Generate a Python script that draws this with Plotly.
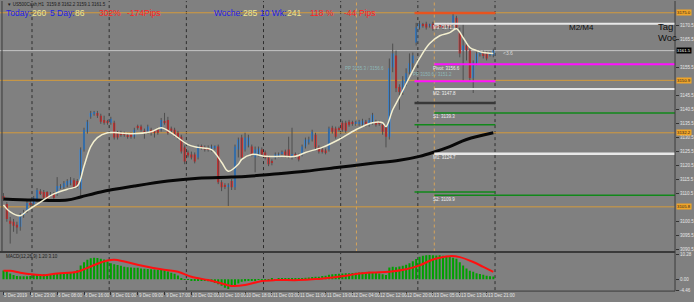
import plotly.graph_objects as go

W, H = 694, 302

# ---------------- data ----------------
bars = list(range(147))
open_ = [3109.7, 3106.8, 3100.8, 3100.5, 3099.4, 3098.7, 3102.9, 3104.4, 3107.2, 3106.8,
         3108.2, 3111.4, 3111.1, 3111.1, 3110.0, 3110.4, 3110.4, 3112.8, 3112.8, 3113.5,
         3114.2, 3115.3, 3115.0, 3112.1, 3126.2, 3132.6, 3137.9, 3139.0, 3139.3, 3138.3,
         3136.8, 3136.1, 3135.8, 3135.8, 3132.2, 3132.2, 3131.9, 3131.5, 3131.9, 3130.8,
         3134.4, 3134.4, 3132.9, 3132.6, 3133.3, 3132.6, 3133.3, 3133.3, 3136.1, 3136.8,
         3133.7, 3133.3, 3132.2, 3130.8, 3127.0, 3125.2, 3124.5, 3124.5, 3123.4, 3127.3,
         3127.0, 3126.6, 3126.2, 3127.0, 3127.3, 3114.6, 3113.5, 3113.2, 3115.0, 3112.8,
         3126.2, 3130.5, 3126.2, 3127.7, 3127.3, 3123.4, 3124.5, 3126.2, 3125.2, 3123.4,
         3122.0, 3123.4, 3124.1, 3124.8, 3125.5, 3126.2, 3124.1, 3124.5, 3124.1, 3124.5,
         3127.3, 3128.7, 3129.8, 3131.5, 3127.0, 3126.2, 3125.9, 3126.2, 3134.0, 3133.7,
         3133.7, 3135.8, 3135.8, 3136.1, 3135.8, 3135.4, 3135.4, 3135.1, 3136.1, 3135.1,
         3135.8, 3136.1, 3135.8, 3135.1, 3134.0, 3130.8, 3155.5, 3159.8, 3148.5, 3146.7,
         3149.9, 3153.8, 3157.0, 3164.4, 3169.7, 3170.7, 3171.1, 3170.4, 3171.1, 3170.0,
         3170.4, 3170.4, 3170.7, 3170.7, 3171.1, 3173.2, 3167.9, 3161.5, 3163.3, 3161.5,
         3151.7, 3157.0, 3160.5, 3160.5, 3160.5, 3160.1, 3159.8]
close = [3108.6, 3101.5, 3099.8, 3099.1, 3098.4, 3102.6, 3103.6, 3107.2, 3106.5, 3109.0,
         3111.8, 3110.7, 3109.0, 3108.6, 3110.4, 3109.0, 3113.2, 3113.2, 3114.2, 3115.0,
         3115.3, 3112.8, 3113.2, 3126.2, 3133.3, 3136.1, 3139.3, 3139.3, 3138.3, 3136.1,
         3135.8, 3135.8, 3137.2, 3130.5, 3130.5, 3131.5, 3131.5, 3130.8, 3130.8, 3133.3,
         3134.0, 3133.3, 3132.2, 3134.4, 3132.2, 3132.2, 3132.2, 3136.8, 3135.8, 3132.2,
         3132.9, 3131.5, 3130.5, 3125.5, 3122.0, 3124.1, 3123.4, 3122.0, 3127.3, 3127.0,
         3126.2, 3126.2, 3127.3, 3127.1, 3114.6, 3112.8, 3113.2, 3113.5, 3112.8, 3127.3,
         3129.8, 3123.4, 3130.5, 3130.5, 3124.5, 3126.2, 3126.6, 3124.5, 3123.4, 3121.0,
         3121.7, 3124.5, 3124.5, 3125.2, 3124.1, 3123.8, 3124.5, 3124.1, 3122.7, 3127.3,
         3129.8, 3129.8, 3132.6, 3127.0, 3125.5, 3125.5, 3125.2, 3133.7, 3132.6, 3130.8,
         3133.3, 3133.3, 3132.9, 3135.1, 3135.4, 3135.8, 3136.1, 3136.5, 3135.1, 3136.8,
         3138.6, 3135.1, 3135.4, 3132.6, 3130.8, 3155.2, 3160.5, 3148.1, 3146.7, 3150.9,
         3153.4, 3157.0, 3159.8, 3169.7, 3171.1, 3170.4, 3169.7, 3170.5, 3169.3, 3169.7,
         3170.0, 3169.7, 3170.4, 3169.7, 3173.9, 3169.7, 3160.5, 3163.3, 3161.5, 3151.7,
         3157.3, 3160.5, 3160.8, 3159.8, 3158.7, 3160.5, 3161.5]
high = [3110.7, 3107.5, 3102.2, 3101.5, 3100.5, 3103.6, 3104.7, 3107.9, 3108.2, 3109.7,
        3112.5, 3112.1, 3111.8, 3111.4, 3111.1, 3111.1, 3116.4, 3113.9, 3115.0, 3115.7,
        3116.4, 3116.0, 3115.7, 3127.0, 3134.0, 3136.8, 3140.0, 3140.0, 3140.0, 3139.0,
        3138.3, 3136.8, 3137.9, 3136.5, 3132.9, 3132.9, 3132.6, 3132.2, 3132.2, 3134.0,
        3135.1, 3135.1, 3133.7, 3135.1, 3134.0, 3133.3, 3134.0, 3137.5, 3139.3, 3137.9,
        3134.4, 3134.0, 3132.9, 3131.5, 3127.7, 3125.9, 3125.5, 3125.2, 3128.0, 3128.0,
        3127.7, 3127.7, 3128.0, 3127.7, 3128.0, 3115.3, 3114.2, 3114.2, 3115.7, 3128.0,
        3130.5, 3131.5, 3132.2, 3131.5, 3128.0, 3127.3, 3127.3, 3127.0, 3125.9, 3124.1,
        3122.7, 3125.2, 3125.2, 3125.9, 3126.2, 3130.8, 3134.0, 3125.2, 3124.8, 3128.0,
        3130.5, 3130.8, 3133.3, 3132.2, 3127.7, 3127.0, 3126.6, 3134.4, 3134.7, 3134.4,
        3134.4, 3136.5, 3136.5, 3136.8, 3136.5, 3136.5, 3136.8, 3137.2, 3136.8, 3137.5,
        3139.3, 3136.8, 3136.5, 3135.8, 3134.7, 3158.7, 3164.0, 3161.5, 3149.5, 3152.4,
        3155.2, 3160.5, 3160.8, 3171.4, 3172.1, 3171.4, 3171.8, 3171.1, 3171.8, 3170.7,
        3171.1, 3171.1, 3171.4, 3171.4, 3174.6, 3173.9, 3169.7, 3171.1, 3164.4, 3162.2,
        3158.0, 3161.2, 3161.5, 3161.5, 3161.2, 3161.2, 3162.2]
low = [3107.9, 3100.5, 3092.7, 3096.9, 3096.2, 3097.3, 3101.9, 3103.6, 3105.8, 3106.1,
       3107.5, 3110.0, 3108.6, 3107.9, 3109.3, 3108.2, 3109.7, 3112.1, 3112.1, 3112.8,
       3113.5, 3112.1, 3112.5, 3109.3, 3125.5, 3131.9, 3137.2, 3138.3, 3137.5, 3135.4,
       3135.1, 3135.1, 3135.1, 3129.8, 3129.8, 3130.8, 3130.8, 3130.1, 3130.1, 3130.1,
       3133.3, 3132.6, 3130.1, 3131.9, 3131.2, 3130.5, 3131.5, 3132.6, 3135.1, 3131.5,
       3132.2, 3130.8, 3129.8, 3124.8, 3121.0, 3123.4, 3122.7, 3121.3, 3122.7, 3126.2,
       3125.5, 3125.5, 3125.5, 3126.2, 3113.9, 3111.4, 3112.1, 3106.1, 3111.8, 3111.8,
       3123.4, 3122.7, 3125.5, 3127.0, 3123.8, 3118.1, 3123.8, 3123.8, 3122.7, 3120.3,
       3120.6, 3122.7, 3123.4, 3124.1, 3123.4, 3123.1, 3122.7, 3123.4, 3122.0, 3123.8,
       3126.6, 3128.0, 3129.1, 3126.2, 3124.8, 3124.8, 3124.5, 3125.5, 3131.9, 3130.1,
       3132.6, 3132.6, 3132.2, 3134.4, 3134.7, 3134.7, 3134.7, 3134.4, 3134.4, 3134.4,
       3135.1, 3134.4, 3134.7, 3131.5, 3127.0, 3129.8, 3153.8, 3146.7, 3140.4, 3145.7,
       3148.8, 3153.1, 3154.5, 3163.3, 3169.0, 3169.7, 3169.0, 3169.7, 3168.6, 3169.0,
       3169.3, 3169.0, 3169.7, 3169.0, 3170.4, 3169.0, 3159.1, 3150.9, 3158.0, 3150.9,
       3146.4, 3156.3, 3159.4, 3158.7, 3158.0, 3159.4, 3159.1]

ma_fast_bar = [0, 2, 5, 7, 11, 15, 19, 22, 24, 26, 28, 31, 34, 38, 44, 47, 50, 55, 58, 62,
               65, 67, 70, 71, 74, 78, 83, 87, 90, 95, 100, 105, 110, 113, 114, 116, 118,
               121, 124, 127, 130, 133, 135, 137, 139, 141, 143, 146]
ma_fast_val = [3106.5, 3104.0, 3102.6, 3104.4, 3107.5, 3110.4, 3112.1, 3113.2, 3120.3, 3127.3,
               3130.5, 3132.2, 3132.2, 3131.9, 3132.6, 3134.0, 3132.2, 3128.0, 3127.0, 3126.2,
               3121.7, 3118.5, 3121.0, 3122.7, 3124.5, 3123.8, 3123.8, 3123.8, 3125.2, 3127.0,
               3129.8, 3133.3, 3135.8, 3135.8, 3134.4, 3140.4, 3144.9, 3152.0, 3158.7, 3164.0,
               3166.8, 3167.9, 3169.3, 3166.1, 3162.6, 3161.5, 3160.8, 3160.5]
ma_slow_bar = [0, 9, 19, 23, 29, 39, 49, 58, 68, 73, 80, 90, 100, 110, 118, 124, 128, 133, 138, 146]
ma_slow_val = [3108.6, 3108.2, 3108.2, 3109.3, 3111.1, 3113.2, 3115.0, 3116.0, 3116.4, 3116.7,
               3117.4, 3118.5, 3119.9, 3121.3, 3122.4, 3123.8, 3125.2, 3127.3, 3129.8, 3132.2]

macd_hist = [3.6, 3.4, 2.4, 1.8, 1.4, 1.3, 1.3, 1.3, 1.4, 1.8,
             2.0, 2.0, 2.1, 2.0, 2.1, 2.2, 2.5, 2.6, 2.7, 2.8,
             2.9, 3.0, 3.7, 5.7, 7.0, 8.0, 8.6, 8.8, 8.7, 8.4,
             8.1, 7.3, 6.6, 6.2, 5.9, 5.6, 5.2, 5.0, 4.9, 4.8,
             4.7, 4.4, 4.3, 4.2, 4.1, 4.0, 3.9, 3.8, 3.7, 3.2,
             2.7, 2.3, 1.6, 0.5, 0.1, -0.2, -0.3, -0.5, -0.6, -0.6,
             -0.7, -0.8, -0.9, -1.5, -2.0, -2.6, -3.4, -3.9, -3.0, -2.3,
             -1.7, -1.0, -0.8, -0.6, -0.4, -0.3, -0.2, -0.1, 0.1, 0.1,
             0.2, 0.1, 0.2, 0.2, 0.3, 0.2, 0.3, 0.3, 0.4, 0.6,
             0.7, 0.8, 1.0, 1.1, 1.1, 1.4, 1.5, 1.9, 2.1, 2.2,
             2.3, 2.4, 2.5, 2.5, 2.6, 2.7, 2.8, 2.9, 3.0, 3.1,
             3.0, 2.7, 2.4, 2.1, 1.8, 4.9, 5.2, 5.0, 5.3, 5.6,
             6.0, 6.6, 7.4, 8.3, 9.3, 9.7, 9.9, 10.0, 9.9, 9.8,
             9.9, 9.7, 9.5, 9.1, 8.8, 8.4, 7.0, 5.7, 4.4, 3.5,
             3.1, 2.5, 2.2, 1.9, 1.5, 1.3, 1.2]
sig_bar = [0, 2, 5, 9, 12, 16, 22, 25, 28, 31, 33, 36, 41, 47, 52, 56, 61, 64, 68, 72, 77,
           81, 88, 93, 98, 102, 105, 110, 115, 120, 124, 128, 133, 136, 140, 143, 146]
sig_val = [3.5, 3.5, 2.7, 2.0, 1.7, 2.4, 3.1, 4.7, 6.4, 7.7, 8.0, 7.3, 5.7, 4.1, 3.1, 1.1, -0.3,
           -1.3, -2.7, -2.3, -0.7, -0.3, -0.3, 0.1, 0.8, 1.5, 2.2, 2.8, 3.1, 4.1, 5.7, 8.1, 9.5,
           9.1, 7.1, 5.1, 3.1]

x_tick_bars = [0, 8, 16, 24, 32, 40, 48, 56, 64, 72, 80, 88, 96, 104, 112, 120, 128, 136, 144]
x_tick_labels = ["5 Dec 2019", "5 Dec 23:00", "6 Dec 08:00", "6 Dec 16:00", "9 Dec 01:00",
                 "9 Dec 09:00", "9 Dec 17:00", "10 Dec 02:00", "10 Dec 10:00", "10 Dec 18:00",
                 "11 Dec 03:00", "11 Dec 11:00", "11 Dec 19:00", "12 Dec 04:00", "12 Dec 12:00",
                 "12 Dec 20:00", "13 Dec 05:00", "13 Dec 13:00", "13 Dec 21:00"]
day_sep = [8.5, 31.5, 54.5, 77.5, 100.5, 123.5, 146.5]
session_marks = [105.2, 128.4]
# tick labels that are not hidden behind the price boxes on the right scale
price_ticks = [3090.5, 3095.5, 3100.5, 3110.5, 3115.5, 3120.5, 3125.5, 3130.5,
               3135.5, 3140.5, 3145.5, 3155.5, 3165.5, 3170.5]

orange_levels = [3175.0, 3150.9, 3132.2, 3105.8]
pivot_names = ["M3", "Pivot", "M2", "S1", "M1", "S2"]
pivot_vals = [3171.1, 3156.6, 3147.8, 3139.3, 3124.7, 3109.9]
prev_levels = [3174.9, 3150.6, 3142.8, 3135.1, 3111.1]
current_price = close[-1]

# ---------------- figure geometry ----------------
X_END = 676 / W
XR = [-1.04, 200.15]
FONT = "Arial, Liberation Sans, sans-serif"


def PX(x):
    return x / W


def PY(y):
    return 1 - y / H


fig = go.Figure()

# candle wicks
wx, wy = [], []
for i, h, l in zip(bars, high, low):
    wx += [i, i, None]
    wy += [l, h, None]
fig.add_trace(go.Scatter(x=wx, y=wy, mode="lines", line=dict(color="#4e4e4e", width=1),
                         hoverinfo="skip", xaxis="x", yaxis="y"))

# candle bodies
body_base = [min(o, c) for o, c in zip(open_, close)]
body_h = [max(abs(c - o), 0.3) for o, c in zip(open_, close)]
body_col = ["#1e8cff" if c >= o else "#ff1414" for o, c in zip(open_, close)]
fig.add_trace(go.Bar(x=bars, y=body_h, base=body_base, width=0.62,
                     marker=dict(color=body_col, line=dict(width=0)),
                     hoverinfo="skip", xaxis="x", yaxis="y"))

# moving averages
fig.add_trace(go.Scatter(x=ma_slow_bar, y=ma_slow_val, mode="lines",
                         line=dict(color="#080808", width=3, shape="spline"),
                         hoverinfo="skip", xaxis="x", yaxis="y"))
fig.add_trace(go.Scatter(x=ma_fast_bar, y=ma_fast_val, mode="lines",
                         line=dict(color="#f3efcf", width=1.5, shape="spline"),
                         hoverinfo="skip", xaxis="x", yaxis="y"))

# MACD
fig.add_trace(go.Bar(x=bars, y=macd_hist, width=0.6, marker=dict(color="#00a000", line=dict(width=0)),
                     hoverinfo="skip", xaxis="x2", yaxis="y2"))
fig.add_trace(go.Scatter(x=sig_bar, y=sig_val, mode="lines",
                         line=dict(color="#ff1010", width=2, shape="spline"),
                         hoverinfo="skip", xaxis="x2", yaxis="y2"))

shapes = []
for s in day_sep:
    shapes.append(dict(type="line", xref="x", yref="paper", x0=s, x1=s, y0=PY(292), y1=1,
                       line=dict(color="#2e2e2e", width=1, dash="dot"), layer="below"))
for s in session_marks:
    shapes.append(dict(type="line", xref="x", yref="paper", x0=s, x1=s, y0=PY(253), y1=1,
                       line=dict(color="#d6a45a", width=1, dash="dot"), layer="below"))
for v in orange_levels:
    shapes.append(dict(type="line", xref="paper", yref="y", x0=0, x1=X_END, y0=v, y1=v,
                       line=dict(color="#d39a3c", width=1), layer="below"))
shapes.append(dict(type="line", xref="paper", yref="y", x0=0, x1=X_END, y0=current_price,
                   y1=current_price, line=dict(color="#c4c4c4", width=1), layer="below"))
piv_style = {"M3": ("#e8e8e8", 2), "Pivot": ("#ff10ff", 2), "M2": ("#e8e8e8", 2),
             "S1": ("#11881a", 1.5), "M1": ("#e8e8e8", 2.5), "S2": ("#11881a", 1.5)}
for n, v in zip(pivot_names, pivot_vals):
    c, w = piv_style[n]
    shapes.append(dict(type="line", xref="x", yref="y", x0=session_marks[1], x1=XR[1], y0=v, y1=v,
                       line=dict(color=c, width=w)))
prev_style = [("#e8541e", 2.5), ("#ff10ff", 2), ("#383838", 2.5), ("#11881a", 1.5), ("#11881a", 1.5)]
for (c, w), v in zip(prev_style, prev_levels):
    shapes.append(dict(type="line", xref="x", yref="y", x0=122.5, x1=146.6, y0=v, y1=v,
                       line=dict(color=c, width=w)))
shapes.append(dict(type="line", xref="paper", yref="paper", x0=X_END, x1=X_END, y0=PY(293), y1=1,
                   line=dict(color="#3a3a3a", width=1)))
shapes.append(dict(type="line", xref="paper", yref="paper", x0=0, x1=X_END, y0=PY(253.5), y1=PY(253.5),
                   line=dict(color="#3a3a3a", width=2)))
shapes.append(dict(type="line", xref="paper", yref="paper", x0=0, x1=X_END, y0=PY(293), y1=PY(293),
                   line=dict(color="#3a3a3a", width=1)))
shapes.append(dict(type="line", xref="paper", yref="paper", x0=PX(2), x1=PX(2), y0=PY(253), y1=1,
                   line=dict(color="#3a3a3a", width=1)))

ann = []


def txt(x, y, s, color, size, anchor="left", **kw):
    d = dict(xref="paper", yref="paper", x=PX(x), y=PY(y), text=s, showarrow=False,
             xanchor=anchor, yanchor="middle", font=dict(family=FONT, size=size, color=color))
    d.update(kw)
    ann.append(d)


BLUE, YEL, RED = "#2020e8", "#f0e68c", "#ff2424"
row = [(4, "Today:", BLUE), (30, "260", YEL), (48, "5 Day:", BLUE), (73, "86", YEL),
       (97, "302%", RED), (125, "-174Pips", RED), (212, "Woche:", BLUE), (241, "285", YEL),
       (258, "10 Wk:", BLUE), (285, "241", YEL), (308, "118 %", RED), (342, "-44", RED),
       (358, "Pips", RED)]
for x, s, c in row:
    txt(x, 12, s, c, 8.5)

txt(5, 3.5, "▼ US500Cash,H1  %.1f %.1f %.1f %.1f" % (open_[-1], high[-1], low[-1], close[-1]),
    "#1a1a1a", 4.5)
txt(4, 258, "MACD(12,26,9) %.2f %.2f" % (macd_hist[-1], sig_val[-1]), "#1a1a1a", 4.5)
txt(568, 27, "M2/M4", "#101010", 8)
txt(657, 25.5, "Tag", "#101010", 9.5)
txt(657, 37, "Woc", "#101010", 9.5)
txt(502, 53, "&lt;3.6", "#d8d8d8", 5)
txt(343, 68, "PP 3155.3 / 3156.6", "#8fb8b8", 4.5)
txt(412, 74.5, "PP 3150.6 / 3151.2", "#8fb8b8", 4.5)

for n, v in zip(pivot_names, pivot_vals):
    ann.append(dict(xref="x", yref="y", x=127.3, y=v, yshift=-4, text="%s: %.1f" % (n, v),
                    showarrow=False, xanchor="left", yanchor="middle",
                    font=dict(family=FONT, size=4.5, color="#f2f2f2")))

for v in orange_levels:
    ann.append(dict(xref="paper", yref="y", x=PX(677), y=v, text="%.1f" % v, showarrow=False,
                    xanchor="left", yanchor="middle", bgcolor="#f0a428", borderpad=0,
                    font=dict(family=FONT, size=4.3, color="#202020")))
ann.append(dict(xref="paper", yref="y", x=PX(677), y=current_price, text="%.1f" % current_price,
                showarrow=False, xanchor="left", yanchor="middle", bgcolor="#000000", borderpad=0,
                font=dict(family=FONT, size=4.3, color="#ffffff")))

for b, s in zip(x_tick_bars, x_tick_labels):
    ann.append(dict(xref="x", yref="paper", x=b, y=PY(297), text=s, showarrow=False,
                    xanchor="left", yanchor="middle", xshift=-1,
                    font=dict(family=FONT, size=4.5, color="#e6e6e6")))

fig.update_layout(
    width=W, height=H, margin=dict(l=0, r=0, t=0, b=0),
    paper_bgcolor="#808080", plot_bgcolor="#808080",
    showlegend=False, hovermode=False, barmode="overlay",
    shapes=shapes, annotations=ann,
    xaxis=dict(domain=[0, X_END], range=XR, anchor="y", showgrid=False, zeroline=False,
               showticklabels=False, ticks=""),
    yaxis=dict(domain=[PY(253), 1], range=[3089.88, 3179.19], side="right", anchor="x",
               tickvals=price_ticks, ticktext=["%.1f" % v for v in price_ticks],
               ticks="outside", ticklen=3, tickcolor="#333333",
               tickfont=dict(family=FONT, size=4.5, color="#e6e6e6"),
               showgrid=False, zeroline=False),
    xaxis2=dict(domain=[0, X_END], range=XR, anchor="y2", showgrid=False, zeroline=False,
                tickvals=x_tick_bars, showticklabels=False, ticks="outside", ticklen=3,
                tickcolor="#333333"),
    yaxis2=dict(domain=[PY(292.5), PY(254.5)], range=[-4.6, 10.8], side="right", anchor="x2",
                tickvals=[10.28, 0, -4.46], ticktext=["10.28", "0.00", "-4.46"],
                ticks="outside", ticklen=3, tickcolor="#333333",
                tickfont=dict(family=FONT, size=4.5, color="#e6e6e6"),
                showgrid=False, zeroline=False),
)

fig.write_html("out.html")
